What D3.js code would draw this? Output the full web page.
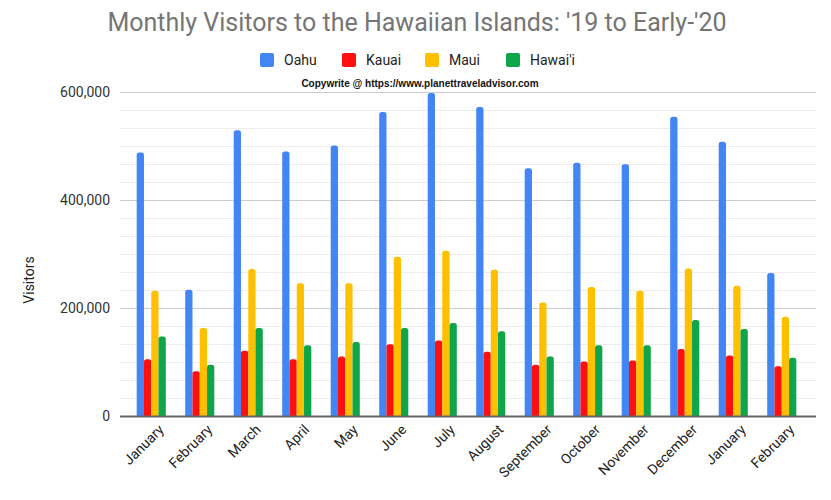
<!DOCTYPE html>
<html>
<head>
<meta charset="utf-8">
<script src="https://cdn.jsdelivr.net/npm/d3@7"></script>
<style>
  body { margin: 0; background: #fff; }
  svg { display: block; font-family: Roboto, Arial, sans-serif; }
</style>
</head>
<body>
<div id="chart"></div>
<script>
// months shown on the x axis (Jan 2019 .. Feb 2020)
const months = ['January', 'February', 'March', 'April', 'May', 'June', 'July',
  'August', 'September', 'October', 'November', 'December', 'January', 'February'];
const islands = ['Oahu', 'Kauai', 'Maui', "Hawai'i"];
const colors = ['#4285f4', '#ff1010', '#ffc000', '#0fa54a'];

// visitors per month
const oahu = [488000, 234000, 529000, 490000, 501000, 563000, 598000, 572000, 459000, 469000, 466000, 554000, 508000, 265000];
const kauai = [105000, 83000, 121000, 105000, 110000, 133000, 140000, 119000, 95000, 101000, 103000, 124000, 112000, 92000];
const maui = [232000, 163000, 272000, 246000, 246000, 295000, 306000, 271000, 210000, 239000, 232000, 273000, 241000, 184000];
const hawaii = [147000, 95000, 163000, 131000, 137000, 163000, 172000, 157000, 110000, 131000, 131000, 178000, 161000, 108000];
const yTicks = [0, 200000, 400000, 600000];

const series = [oahu, kauai, maui, hawaii];

const width = 831;
const height = 500;
const margin = { top: 92, right: 15, bottom: 84, left: 120 };

const svg = d3.select('#chart')
  .append('svg')
  .attr('width', width)
  .attr('height', height);

// Title
svg.append('text')
  .attr('x', 417)
  .attr('y', 31)
  .attr('text-anchor', 'middle')
  .style('font-size', '25px')
  .style('fill', '#757575')
  .text("Monthly Visitors to the Hawaiian Islands: '19 to Early-'20");

const y = d3.scaleLinear()
  .domain([0, 600000])
  .range([height - margin.bottom, margin.top]);

// band per month; plot area is a bit wider than the bands
const x0 = d3.scaleBand()
  .domain(d3.range(months.length))
  .range([127, 806])
  .paddingInner(0.4)
  .paddingOuter(0.2);

const x1 = d3.scaleBand()
  .domain(d3.range(islands.length))
  .range([0, x0.bandwidth()]);

// minor gridlines (6 per major step)
const minor = d3.range(0, 600001, 200000 / 6);
svg.append('g')
  .selectAll('line')
  .data(minor)
  .join('line')
  .attr('x1', margin.left)
  .attr('x2', width - margin.right)
  .attr('y1', d => Math.round(y(d)) + 0.5)
  .attr('y2', d => Math.round(y(d)) + 0.5)
  .attr('stroke', '#ececec');

// y axis with major gridlines
const yAxis = svg.append('g')
  .attr('transform', `translate(${margin.left},0)`)
  .call(d3.axisLeft(y)
    .tickValues(yTicks)
    .tickFormat(d3.format(','))
    .tickSize(-(width - margin.right - margin.left))
    .tickPadding(10));
yAxis.select('.domain').remove();
yAxis.selectAll('line').attr('stroke', '#cccccc');
yAxis.selectAll('text')
  .style('font-size', '14px')
  .style('fill', '#333')
  .style('font-family', 'Roboto, Arial, sans-serif');

// Bars (rounded tops)
const groups = svg.append('g')
  .selectAll('g')
  .data(months)
  .join('g')
  .attr('transform', (d, i) => `translate(${x0(i)},0)`);

groups.selectAll('path')
  .data((d, i) => series.map((s, k) => ({ k: k, v: s[i] })))
  .join('path')
  .attr('fill', d => colors[d.k])
  .attr('d', d => {
    const bx = x1(d.k);
    const bw = x1.bandwidth();
    const top = y(d.v);
    const base = y(0);
    const r = Math.min(2.5, bw / 2);
    return `M${bx},${base}V${top + r}Q${bx},${top} ${bx + r},${top}H${bx + bw - r}Q${bx + bw},${top} ${bx + bw},${top + r}V${base}Z`;
  });

// x axis baseline
svg.append('line')
  .attr('x1', margin.left)
  .attr('x2', width - margin.right)
  .attr('y1', y(0) + 0.5)
  .attr('y2', y(0) + 0.5)
  .attr('stroke', '#666')
  .attr('stroke-width', 2);

// x labels, slanted
svg.append('g')
  .selectAll('text')
  .data(months)
  .join('text')
  .attr('transform', (d, i) => `translate(${x0(i) + x0.bandwidth() / 2 + 10},${y(0) + 11}) rotate(-45)`)
  .attr('text-anchor', 'end')
  .attr('dy', '0.35em')
  .style('font-size', '14px')
  .style('fill', '#222')
  .text(d => d);

// y axis title
svg.append('text')
  .attr('transform', 'translate(34,280) rotate(-90)')
  .attr('text-anchor', 'middle')
  .style('font-size', '14px')
  .style('fill', '#222')
  .text('Visitors');

// Legend
const legendX = [260, 342, 425, 506];
const legend = svg.append('g')
  .selectAll('g')
  .data(islands)
  .join('g')
  .attr('transform', (d, i) => `translate(${legendX[i]},53)`);
legend.append('rect')
  .attr('width', 14)
  .attr('height', 14)
  .attr('rx', 2)
  .attr('fill', (d, i) => colors[i]);
legend.append('text')
  .attr('x', 24)
  .attr('y', 7)
  .attr('dy', '0.35em')
  .style('font-size', '14px')
  .style('fill', '#222')
  .text(d => d);

// watermark note
svg.append('text')
  .attr('x', 420)
  .attr('y', 87)
  .attr('text-anchor', 'middle')
  .style('font-family', 'Liberation Sans, Arial, sans-serif')
  .style('font-size', '10px')
  .style('font-weight', 'bold')
  .style('fill', '#111')
  .text('Copywrite @ https://www.planettraveladvisor.com');
</script>
</body>
</html>
